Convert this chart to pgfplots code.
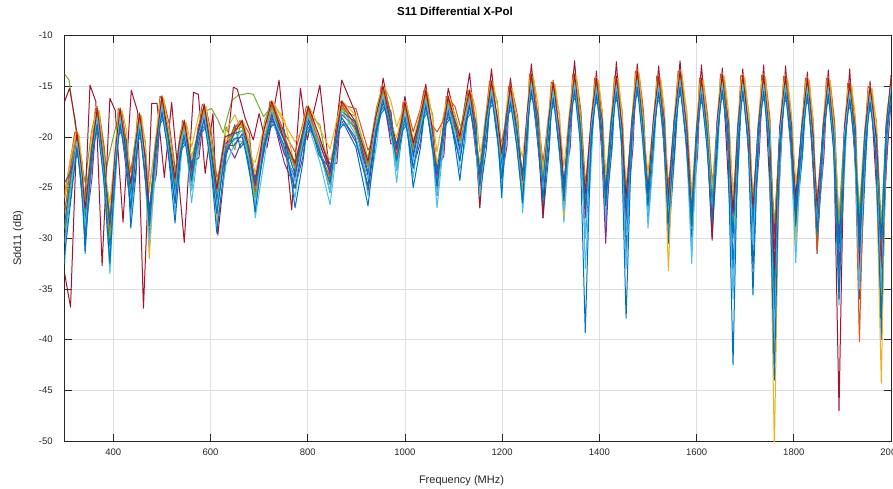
\documentclass[border=0pt]{standalone}
\usepackage{pgfplots}
\pgfplotsset{compat=1.18}
\usepackage{pgfplotstable}
\usepackage{fontspec}
\setmainfont{Liberation Sans}

\definecolor{mblue}{rgb}{0,0.447,0.741}
\definecolor{morange}{rgb}{0.85,0.325,0.098}
\definecolor{myellow}{rgb}{0.929,0.694,0.125}
\definecolor{mpurple}{rgb}{0.494,0.184,0.556}
\definecolor{mgreen}{rgb}{0.466,0.674,0.188}
\definecolor{mcyan}{rgb}{0.301,0.745,0.933}
\definecolor{mred}{rgb}{0.635,0.078,0.184}

% main band of traces, sampled at troughs, peaks and slopes
\pgfplotstableread{
x a b c d e f g h
300 -27.5 -26.0 -24.5 -29.0 -33.5 -30.5 -31.5 -28.5
312 -23.0 -22.0 -23.5 -24.5 -36.8 -25.5 -26.5 -24.0
325 -19.8 -19.4 -20.8 -20.1 -19.5 -20.4 -21.1 -20.5
334 -24.3 -23.4 -23.7 -24.6 -23.0 -23.8 -24.5 -25.0
342 -27.4 -27.0 -28.5 -27.7 -27.1 -28.9 -30.5 -28.2
355 -21.1 -21.9 -22.9 -21.4 -21.6 -22.4 -22.2 -21.7
367 -17.5 -17.1 -18.5 -17.8 -17.2 -18.1 -18.8 -18.2
380 -22.8 -21.8 -23.0 -23.3 -22.4 -23.7 -24.0 -22.5
393 -29.4 -27.6 -28.8 -30.0 -28.5 -33.5 -32.5 -28.4
404 -22.8 -21.9 -22.2 -23.1 -21.5 -22.3 -23.0 -23.5
414 -17.5 -17.1 -18.5 -17.8 -17.2 -18.1 -18.8 -18.2
425 -20.6 -21.4 -22.4 -20.9 -21.1 -21.9 -21.7 -21.2
436 -24.9 -24.5 -26.0 -25.2 -24.6 -26.4 -27.1 -25.7
445 -21.3 -20.3 -21.5 -21.8 -20.9 -22.2 -22.5 -21.0
454 -18.0 -17.6 -19.0 -18.3 -17.7 -18.6 -19.3 -18.7
464 -22.8 -21.9 -22.2 -23.1 -21.5 -22.3 -23.0 -23.5
474 -28.4 -32.0 -27.8 -29.0 -27.5 -30.5 -28.8 -27.4
487 -20.6 -21.4 -22.4 -20.9 -21.1 -21.9 -21.7 -21.2
500 -16.3 -15.9 -17.3 -16.6 -16.0 -16.9 -17.6 -17.0
513 -20.3 -19.3 -20.5 -20.8 -19.9 -21.2 -21.5 -20.0
527 -24.4 -24.0 -25.5 -24.7 -24.1 -25.9 -26.6 -25.2
536 -21.8 -20.9 -21.2 -22.1 -20.5 -21.3 -22.0 -22.5
546 -18.7 -18.3 -19.7 -19.0 -18.4 -19.3 -20.0 -19.4
561 -23.9 -22.1 -23.3 -24.5 -23.0 -25.3 -24.3 -22.9
574 -19.1 -19.9 -20.9 -19.4 -19.6 -20.4 -20.2 -19.7
587 -17.1 -16.7 -18.1 -17.4 -16.8 -17.7 -18.4 -17.8
600 -21.3 -20.3 -21.5 -21.8 -20.9 -22.2 -22.5 -21.0
613 -25.4 -28.0 -26.5 -25.7 -25.1 -26.9 -27.6 -26.2
630 -21.3 -20.4 -20.7 -21.6 -20.0 -20.8 -21.5 -22.0
648 -19.1 -19.9 -20.9 -19.4 -19.6 -20.4 -20.2 -19.7
665 -18.7 -18.3 -19.7 -19.0 -18.4 -19.3 -20.0 -19.4
678 -21.3 -20.3 -21.5 -21.8 -20.9 -22.2 -22.5 -21.0
692 -25.4 -23.6 -24.8 -26.0 -24.5 -26.8 -27.4 -24.4
709 -20.8 -19.9 -20.2 -21.1 -19.5 -20.3 -21.0 -21.5
726 -16.8 -16.4 -17.8 -17.1 -16.5 -17.4 -18.1 -17.5
750 -19.6 -18.5 -21.4 -19.9 -20.1 -20.9 -20.7 -20.2
774 -22.9 -20.5 -24.0 -23.2 -22.6 -24.4 -25.1 -23.7
788 -20.3 -19.3 -20.5 -20.8 -19.9 -21.2 -21.5 -20.0
801 -17.3 -16.9 -18.3 -17.6 -17.0 -17.9 -18.6 -18.0
823 -21.1 -20.2 -20.5 -21.4 -19.8 -20.6 -21.3 -21.8
846 -24.1 -22.3 -23.5 -24.7 -23.2 -25.5 -24.5 -23.1
858 -19.6 -20.4 -21.4 -19.9 -20.1 -20.9 -20.7 -20.2
870 -16.8 -16.4 -17.8 -17.1 -16.5 -17.4 -18.1 -17.5
897 -18.8 -17.8 -19.0 -19.3 -18.4 -19.7 -20.0 -18.5
924 -22.7 -22.3 -23.8 -23.0 -22.4 -24.2 -24.9 -23.5
940 -19.3 -18.4 -18.7 -19.6 -18.0 -18.8 -19.5 -20.0
955 -15.3 -14.9 -16.3 -15.6 -15.0 -15.9 -16.6 -16.0
969 -17.7 -18.5 -19.5 -18.0 -18.2 -19.0 -18.8 -18.3
983 -21.9 -20.1 -21.3 -22.5 -21.0 -23.3 -22.3 -20.9
1000 -16.9 -16.5 -17.9 -17.2 -16.6 -17.5 -18.2 -17.6
1017 -20.9 -20.5 -22.0 -21.2 -20.6 -22.4 -23.1 -21.7
1030 -18.8 -17.8 -19.0 -19.3 -18.4 -19.7 -20.0 -18.5
1043 -15.7 -15.3 -16.7 -16.0 -15.4 -16.3 -17.0 -16.4
1055 -18.8 -19.2 -19.5 -20.4 -18.8 -19.6 -20.3 -20.8
1066 -19.5 -22.6 -23.8 -25.0 -25.5 -25.8 -24.8 -23.4
1078 -18.5 -19.7 -20.7 -19.2 -19.4 -20.2 -20.0 -19.5
1089 -16.3 -15.9 -17.3 -16.6 -16.0 -16.9 -17.6 -17.0
1101 -18.6 -17.6 -18.8 -19.1 -18.2 -19.5 -19.8 -18.3
1113 -20.2 -19.8 -21.3 -20.5 -19.9 -21.7 -22.4 -21.0
1123 -18.9 -18.0 -18.3 -19.2 -17.6 -18.4 -19.1 -19.6
1133 -15.7 -15.3 -16.7 -16.0 -15.4 -16.3 -17.0 -16.4
1144 -18.7 -19.5 -20.5 -19.0 -19.2 -20.0 -19.8 -19.3
1154 -24.4 -22.6 -23.8 -25.0 -27.0 -25.8 -24.8 -23.4
1166 -18.8 -17.8 -19.0 -19.3 -18.4 -19.7 -20.0 -18.5
1178 -14.8 -14.4 -15.8 -15.1 -14.5 -15.4 -16.1 -15.5
1188 -18.8 -17.9 -18.2 -19.1 -17.5 -18.3 -19.0 -19.5
1199 -21.9 -21.5 -23.0 -22.2 -21.6 -23.4 -24.1 -22.7
1208 -17.9 -18.7 -19.7 -18.2 -18.4 -19.2 -19.0 -18.5
1217 -15.3 -14.9 -16.3 -15.6 -15.0 -15.9 -16.6 -16.0
1230 -19.6 -18.6 -19.8 -20.1 -19.2 -20.5 -20.8 -19.3
1242 -24.9 -25.3 -24.3 -25.5 -24.0 -26.3 -26.5 -23.9
1251 -19.1 -18.2 -18.5 -19.4 -17.8 -18.6 -19.3 -19.8
1260 -14.1 -13.7 -15.1 -14.4 -13.8 -14.7 -15.4 -14.8
1272 -18.1 -18.9 -19.9 -18.4 -18.6 -19.4 -19.2 -18.7
1284 -23.9 -23.5 -25.0 -24.2 -28.0 -25.4 -26.1 -24.7
1295 -19.0 -18.0 -19.2 -19.5 -18.6 -19.9 -20.2 -18.7
1305 -14.9 -14.5 -15.9 -15.2 -14.6 -15.5 -16.2 -15.6
1316 -20.1 -19.2 -19.5 -20.4 -18.8 -19.6 -20.3 -20.8
1327 -25.9 -28.0 -25.3 -26.5 -25.0 -27.3 -26.3 -24.9
1338 -18.1 -18.9 -19.9 -18.4 -18.6 -19.4 -19.2 -18.7
1349 -14.1 -13.7 -15.1 -14.4 -13.8 -14.7 -15.4 -14.8
1360 -19.0 -18.0 -19.2 -19.5 -18.6 -19.9 -20.2 -18.7
1371 -25.9 -25.5 -27.0 -26.2 -25.6 -30.0 -39.3 -26.7
1383 -19.6 -18.7 -19.0 -19.9 -18.3 -19.1 -19.8 -20.3
1394 -14.5 -14.1 -15.5 -14.8 -14.2 -15.1 -15.8 -15.2
1404 -18.6 -19.4 -20.4 -18.9 -19.1 -19.9 -19.7 -19.2
1413 -26.4 -24.6 -30.5 -27.0 -25.5 -27.8 -26.8 -25.4
1424 -19.0 -18.0 -19.2 -19.5 -18.6 -19.9 -20.2 -18.7
1435 -14.3 -13.9 -15.3 -14.6 -14.0 -14.9 -15.6 -15.0
1445 -19.8 -18.9 -19.2 -20.1 -18.5 -19.3 -20.0 -20.5
1455 -26.4 -26.0 -27.5 -26.7 -26.1 -33.0 -37.9 -27.2
1467 -18.1 -18.9 -19.9 -18.4 -18.6 -19.4 -19.2 -18.7
1478 -13.8 -13.4 -14.8 -14.1 -13.5 -14.4 -15.1 -14.5
1489 -19.1 -18.1 -19.3 -19.6 -18.7 -20.0 -20.3 -18.8
1500 -26.4 -24.6 -25.8 -27.0 -25.5 -27.8 -26.8 -25.4
1511 -19.6 -18.7 -19.0 -19.9 -18.3 -19.1 -19.8 -20.3
1522 -14.3 -13.9 -15.3 -14.6 -14.0 -14.9 -15.6 -15.0
1532 -18.6 -19.4 -20.4 -18.9 -19.1 -19.9 -19.7 -19.2
1542 -26.4 -33.2 -27.5 -26.7 -26.1 -27.9 -28.6 -27.2
1554 -18.8 -17.8 -19.0 -19.3 -18.4 -19.7 -20.0 -18.5
1566 -13.8 -13.4 -14.8 -14.1 -13.5 -14.4 -15.1 -14.5
1578 -19.8 -18.9 -19.2 -20.1 -18.5 -19.3 -20.0 -20.5
1590 -28.4 -26.6 -27.8 -29.0 -27.5 -32.5 -28.8 -27.4
1600 -18.9 -19.7 -20.7 -19.2 -19.4 -20.2 -20.0 -19.5
1610 -14.5 -14.1 -15.5 -14.8 -14.2 -15.1 -15.8 -15.2
1621 -19.6 -18.6 -19.8 -20.1 -19.2 -20.5 -20.8 -19.3
1632 -25.9 -25.5 -27.0 -26.2 -30.2 -27.4 -28.1 -26.7
1642 -19.8 -18.9 -19.2 -20.1 -18.5 -19.3 -20.0 -20.5
1653 -14.1 -13.7 -15.1 -14.4 -13.8 -14.7 -15.4 -14.8
1664 -18.9 -19.7 -20.7 -19.2 -19.4 -20.2 -20.0 -19.5
1675 -28.4 -26.6 -27.8 -29.0 -27.5 -36.0 -42.5 -30.0
1685 -19.3 -18.3 -19.5 -19.8 -18.9 -20.2 -20.5 -19.0
1695 -14.2 -13.8 -15.2 -14.5 -13.9 -14.8 -15.5 -14.9
1706 -20.1 -19.2 -19.5 -20.4 -18.8 -19.6 -20.3 -20.8
1716 -27.4 -27.0 -28.5 -27.7 -27.1 -30.5 -35.6 -28.5
1727 -18.6 -19.4 -20.4 -18.9 -19.1 -19.9 -19.7 -19.2
1738 -14.2 -13.8 -15.2 -14.5 -13.9 -14.8 -15.5 -14.9
1749 -19.8 -18.8 -20.0 -20.3 -19.4 -20.7 -21.0 -19.5
1760 -30.0 -51.0 -29.5 -28.5 -33.0 -40.0 -44.0 -37.0
1771 -20.3 -19.4 -19.7 -20.6 -19.0 -19.8 -20.5 -21.0
1783 -14.3 -13.9 -15.3 -14.6 -14.0 -14.9 -15.6 -15.0
1793 -18.9 -19.7 -20.7 -19.2 -19.4 -20.2 -20.0 -19.5
1804 -26.4 -31.0 -27.6 -26.6 -26.0 -32.4 -28.5 -27.1
1816 -19.6 -18.6 -19.8 -20.1 -19.2 -20.5 -20.8 -19.3
1828 -14.5 -14.1 -15.5 -14.8 -14.2 -15.1 -15.8 -15.2
1838 -20.6 -19.7 -20.0 -20.9 -19.3 -20.1 -20.8 -21.3
1848 -31.5 -27.0 -28.6 -29.5 -27.0 -28.8 -29.5 -28.2
1860 -18.9 -19.7 -20.7 -19.2 -19.4 -20.2 -20.0 -19.5
1871 -14.5 -14.1 -15.5 -14.8 -14.2 -15.1 -15.8 -15.2
1882 -20.1 -19.1 -20.3 -20.6 -19.7 -21.0 -21.3 -19.8
1893 -28.4 -28.0 -29.6 -28.6 -47.0 -36.6 -36.0 -31.0
1904 -20.3 -19.4 -19.7 -20.6 -19.0 -19.8 -20.5 -21.0
1915 -15.0 -14.6 -16.0 -15.3 -14.7 -15.6 -16.3 -15.7
1925 -19.4 -20.2 -21.2 -19.7 -19.9 -20.7 -20.5 -20.0
1935 -40.2 -27.0 -28.6 -27.6 -33.0 -35.0 -31.0 -29.0
1946 -20.1 -19.1 -20.3 -20.6 -19.7 -21.0 -21.3 -19.8
1957 -15.3 -14.9 -16.3 -15.6 -15.0 -15.9 -16.6 -16.0
1968 -20.8 -19.9 -20.2 -21.1 -19.5 -20.3 -21.0 -21.5
1980 -33.0 -44.3 -29.5 -28.6 -33.0 -35.0 -38.0 -30.0
1990 -18.6 -19.4 -20.4 -18.9 -19.1 -19.9 -19.7 -19.2
2000 -14.5 -14.1 -15.5 -14.8 -14.2 -15.1 -15.8 -15.2
}\band

% second group of traces, sampled on both shoulders of each peak
\pgfplotstableread{
x i j k l m n
300 -25.5 -27.0 -30.0 -32.5 -29.0 -26.0
312 -22.2 -24.5 -25.5 -23.4 -26.0 -23.0
321 -19.5 -20.2 -21.9 -21.5 -22.2 -20.0
329 -19.9 -19.7 -21.4 -21.9 -21.7 -20.4
336 -25.3 -22.9 -24.0 -26.2 -24.9 -22.5
342 -26.0 -27.5 -29.5 -30.5 -31.5 -26.8
356 -21.1 -19.8 -24.1 -22.6 -20.8 -23.3
363 -17.2 -17.9 -19.6 -19.2 -19.9 -17.7
371 -17.6 -17.4 -19.1 -19.6 -19.4 -18.1
382 -21.2 -23.5 -24.5 -22.4 -25.0 -22.0
393 -30.0 -26.5 -28.0 -32.0 -30.8 -29.5
405 -23.3 -20.9 -22.0 -24.2 -22.9 -20.5
410 -17.2 -17.9 -19.6 -19.2 -19.9 -17.7
418 -17.6 -17.4 -19.1 -19.6 -19.4 -18.1
427 -20.6 -19.3 -23.6 -22.1 -20.3 -22.8
436 -23.5 -25.0 -27.0 -28.0 -29.0 -24.3
447 -19.7 -22.0 -23.0 -20.9 -23.5 -20.5
450 -17.7 -18.4 -20.1 -19.7 -20.4 -18.2
458 -18.1 -17.9 -19.6 -20.1 -19.9 -18.6
466 -23.3 -20.9 -22.0 -24.2 -22.9 -20.5
474 -29.0 -25.5 -27.0 -31.0 -29.8 -28.5
489 -20.6 -19.3 -23.6 -22.1 -20.3 -22.8
496 -16.0 -16.7 -18.4 -18.0 -18.7 -16.5
504 -16.4 -16.2 -17.9 -18.4 -18.2 -16.9
515 -18.7 -21.0 -22.0 -19.9 -22.5 -19.5
527 -23.0 -24.5 -26.5 -27.5 -28.5 -23.8
538 -22.3 -19.9 -21.0 -23.2 -21.9 -19.5
542 -18.4 -19.1 -20.8 -20.4 -21.1 -18.9
550 -18.8 -18.6 -20.3 -20.8 -20.6 -19.3
561 -24.5 -21.0 -22.5 -26.5 -25.3 -24.0
576 -19.1 -17.8 -22.1 -20.6 -18.8 -21.3
583 -16.8 -17.5 -19.2 -18.8 -19.5 -17.3
591 -17.2 -17.0 -18.7 -19.2 -19.0 -17.7
602 -19.7 -22.0 -23.0 -20.9 -23.5 -20.5
613 -24.0 -25.5 -27.5 -28.5 -29.5 -24.8
632 -21.8 -19.4 -20.5 -22.7 -21.4 -19.0
650 -19.1 -17.8 -22.1 -20.6 -18.8 -21.3
661 -18.4 -19.1 -20.8 -20.4 -21.1 -18.9
669 -18.8 -18.6 -20.3 -20.8 -20.6 -19.3
680 -19.7 -22.0 -23.0 -20.9 -23.5 -20.5
692 -26.0 -22.5 -24.0 -28.0 -26.8 -25.5
711 -21.3 -18.9 -20.0 -22.2 -20.9 -18.5
722 -16.5 -17.2 -18.9 -18.5 -19.2 -17.0
730 -16.9 -16.7 -18.4 -18.9 -18.7 -17.4
752 -19.6 -18.3 -22.6 -21.1 -19.3 -21.8
774 -21.5 -23.0 -25.0 -26.0 -27.0 -22.3
790 -18.7 -21.0 -22.0 -19.9 -22.5 -19.5
797 -17.0 -17.7 -19.4 -19.0 -19.7 -17.5
805 -17.4 -17.2 -18.9 -19.4 -19.2 -17.9
825 -21.6 -19.2 -20.3 -22.5 -21.2 -18.8
846 -24.7 -21.2 -22.7 -26.7 -25.5 -24.2
860 -19.6 -18.3 -22.6 -21.1 -19.3 -21.8
866 -16.5 -17.2 -18.9 -18.5 -19.2 -17.0
874 -16.9 -16.7 -18.4 -18.9 -18.7 -17.4
899 -17.2 -19.5 -20.5 -18.4 -21.0 -18.0
924 -21.3 -22.8 -24.8 -25.8 -26.8 -22.1
942 -19.8 -17.4 -18.5 -20.7 -19.4 -17.0
951 -15.0 -15.7 -17.4 -17.0 -17.7 -15.5
959 -15.4 -15.2 -16.9 -17.4 -17.2 -15.9
971 -17.7 -16.4 -20.7 -19.2 -17.4 -19.9
983 -22.5 -19.0 -20.5 -24.5 -23.3 -22.0
996 -16.6 -17.3 -19.0 -18.6 -19.3 -17.1
1004 -17.0 -16.8 -18.5 -19.0 -18.8 -17.5
1017 -19.5 -21.0 -23.0 -24.0 -25.0 -20.3
1032 -17.2 -19.5 -20.5 -18.4 -21.0 -18.0
1039 -15.4 -16.1 -17.8 -17.4 -18.1 -15.9
1047 -15.8 -15.6 -17.3 -17.8 -17.6 -16.3
1057 -20.6 -18.2 -19.3 -21.5 -20.2 -17.8
1066 -25.0 -21.5 -23.0 -27.0 -25.8 -24.5
1080 -18.9 -17.6 -21.9 -20.4 -18.6 -21.1
1085 -16.0 -16.7 -18.4 -18.0 -18.7 -16.5
1093 -16.4 -16.2 -17.9 -18.4 -18.2 -16.9
1103 -17.0 -19.3 -20.3 -18.2 -20.8 -17.8
1113 -18.8 -20.3 -22.3 -23.3 -24.3 -19.6
1125 -19.4 -17.0 -18.1 -20.3 -19.0 -16.6
1129 -15.4 -16.1 -17.8 -17.4 -18.1 -15.9
1137 -15.8 -15.6 -17.3 -17.8 -17.6 -16.3
1146 -18.7 -17.4 -21.7 -20.2 -18.4 -20.9
1154 -25.0 -21.5 -23.0 -27.0 -25.8 -24.5
1168 -17.2 -19.5 -20.5 -18.4 -21.0 -18.0
1174 -14.5 -15.2 -16.9 -16.5 -17.2 -15.0
1182 -14.9 -14.7 -16.4 -16.9 -16.7 -15.4
1190 -19.3 -16.9 -18.0 -20.2 -18.9 -16.5
1199 -20.5 -22.0 -24.0 -25.0 -26.0 -21.3
1210 -17.9 -16.6 -20.9 -19.4 -17.6 -20.1
1213 -15.0 -15.7 -17.4 -17.0 -17.7 -15.5
1221 -15.4 -15.2 -16.9 -17.4 -17.2 -15.9
1232 -18.0 -20.3 -21.3 -19.2 -21.8 -18.8
1242 -25.5 -22.0 -23.5 -27.5 -26.3 -25.0
1253 -19.6 -17.2 -18.3 -20.5 -19.2 -16.8
1256 -13.8 -14.5 -16.2 -15.8 -16.5 -14.3
1264 -14.2 -14.0 -15.7 -16.2 -16.0 -14.7
1274 -18.1 -16.8 -21.1 -19.6 -17.8 -20.3
1284 -22.5 -24.0 -26.0 -27.0 -28.0 -23.3
1297 -17.4 -19.7 -20.7 -18.6 -21.2 -18.2
1301 -14.6 -15.3 -17.0 -16.6 -17.3 -15.1
1309 -15.0 -14.8 -16.5 -17.0 -16.8 -15.5
1318 -20.6 -18.2 -19.3 -21.5 -20.2 -17.8
1327 -26.5 -23.0 -24.5 -28.5 -27.3 -26.0
1340 -18.1 -16.8 -21.1 -19.6 -17.8 -20.3
1345 -13.8 -14.5 -16.2 -15.8 -16.5 -14.3
1353 -14.2 -14.0 -15.7 -16.2 -16.0 -14.7
1362 -17.4 -19.7 -20.7 -18.6 -21.2 -18.2
1371 -24.5 -26.0 -28.0 -33.0 -30.0 -25.3
1385 -20.1 -17.7 -18.8 -21.0 -19.7 -17.3
1390 -14.2 -14.9 -16.6 -16.2 -16.9 -14.7
1398 -14.6 -14.4 -16.1 -16.6 -16.4 -15.1
1406 -18.6 -17.3 -21.6 -20.1 -18.3 -20.8
1413 -27.0 -23.5 -25.0 -29.0 -27.8 -26.5
1426 -17.4 -19.7 -20.7 -18.6 -21.2 -18.2
1431 -14.0 -14.7 -16.4 -16.0 -16.7 -14.5
1439 -14.4 -14.2 -15.9 -16.4 -16.2 -14.9
1447 -20.3 -17.9 -19.0 -21.2 -19.9 -17.5
1455 -25.0 -26.5 -28.5 -29.5 -31.5 -25.8
1469 -18.1 -16.8 -21.1 -19.6 -17.8 -20.3
1474 -13.5 -14.2 -15.9 -15.5 -16.2 -14.0
1482 -13.9 -13.7 -15.4 -15.9 -15.7 -14.4
1491 -17.5 -19.8 -20.8 -18.7 -21.3 -18.3
1500 -27.0 -23.5 -25.0 -29.0 -27.8 -26.5
1513 -20.1 -17.7 -18.8 -21.0 -19.7 -17.3
1518 -14.0 -14.7 -16.4 -16.0 -16.7 -14.5
1526 -14.4 -14.2 -15.9 -16.4 -16.2 -14.9
1534 -18.6 -17.3 -21.6 -20.1 -18.3 -20.8
1542 -25.0 -26.5 -28.5 -29.5 -30.5 -25.8
1556 -17.2 -19.5 -20.5 -18.4 -21.0 -18.0
1562 -13.5 -14.2 -15.9 -15.5 -16.2 -14.0
1570 -13.9 -13.7 -15.4 -15.9 -15.7 -14.4
1580 -20.3 -17.9 -19.0 -21.2 -19.9 -17.5
1590 -29.0 -25.5 -27.0 -31.0 -29.8 -28.5
1602 -18.9 -17.6 -21.9 -20.4 -18.6 -21.1
1606 -14.2 -14.9 -16.6 -16.2 -16.9 -14.7
1614 -14.6 -14.4 -16.1 -16.6 -16.4 -15.1
1623 -18.0 -20.3 -21.3 -19.2 -21.8 -18.8
1632 -24.5 -26.0 -28.0 -29.0 -30.0 -25.3
1644 -20.3 -17.9 -19.0 -21.2 -19.9 -17.5
1649 -13.8 -14.5 -16.2 -15.8 -16.5 -14.3
1657 -14.2 -14.0 -15.7 -16.2 -16.0 -14.7
1666 -18.9 -17.6 -21.9 -20.4 -18.6 -21.1
1675 -29.0 -25.5 -27.0 -34.0 -33.0 -28.5
1687 -17.7 -20.0 -21.0 -18.9 -21.5 -18.5
1691 -13.9 -14.6 -16.3 -15.9 -16.6 -14.4
1699 -14.3 -14.1 -15.8 -16.3 -16.1 -14.8
1708 -20.6 -18.2 -19.3 -21.5 -20.2 -17.8
1716 -26.0 -27.5 -29.5 -30.5 -33.0 -26.8
1729 -18.6 -17.3 -21.6 -20.1 -18.3 -20.8
1734 -13.9 -14.6 -16.3 -15.9 -16.6 -14.4
1742 -14.3 -14.1 -15.8 -16.3 -16.1 -14.8
1751 -18.2 -20.5 -21.5 -19.4 -22.0 -19.0
1760 -36.0 -42.0 -31.0 -38.0 -34.0 -30.0
1773 -20.8 -18.4 -19.5 -21.7 -20.4 -18.0
1779 -14.0 -14.7 -16.4 -16.0 -16.7 -14.5
1787 -14.4 -14.2 -15.9 -16.4 -16.2 -14.9
1795 -18.9 -17.6 -21.9 -20.4 -18.6 -21.1
1804 -28.0 -24.5 -26.0 -30.0 -28.8 -27.5
1818 -18.0 -20.3 -21.3 -19.2 -21.8 -18.8
1824 -14.2 -14.9 -16.6 -16.2 -16.9 -14.7
1832 -14.6 -14.4 -16.1 -16.6 -16.4 -15.1
1840 -21.1 -18.7 -19.8 -22.0 -20.7 -18.3
1848 -26.0 -27.5 -29.5 -30.5 -31.5 -29.0
1862 -18.9 -17.6 -21.9 -20.4 -18.6 -21.1
1867 -14.2 -14.9 -16.6 -16.2 -16.9 -14.7
1875 -14.6 -14.4 -16.1 -16.6 -16.4 -15.1
1884 -18.5 -20.8 -21.8 -19.7 -22.3 -19.3
1893 -30.0 -29.0 -33.0 -36.0 -34.0 -28.5
1906 -20.8 -18.4 -19.5 -21.7 -20.4 -18.0
1911 -14.7 -15.4 -17.1 -16.7 -17.4 -15.2
1919 -15.1 -14.9 -16.6 -17.1 -16.9 -15.6
1927 -19.4 -18.1 -22.4 -20.9 -19.1 -21.6
1935 -32.0 -29.0 -30.5 -34.0 -36.0 -28.0
1948 -18.5 -20.8 -21.8 -19.7 -22.3 -19.3
1953 -15.0 -15.7 -17.4 -17.0 -17.7 -15.5
1961 -15.4 -15.2 -16.9 -17.4 -17.2 -15.9
1970 -21.3 -18.9 -20.0 -22.2 -20.9 -18.5
1980 -31.0 -36.0 -30.0 -34.0 -40.0 -29.0
1992 -18.6 -17.3 -21.6 -20.1 -18.3 -20.8
2000 -14.2 -14.9 -16.6 -16.2 -16.9 -14.7
}\bandtwo

% dark red trace that swings widely below 900 MHz and tops the peaks above
\pgfplotstableread{
x y
300 -16.5
310 -15.2
322 -18.5
342 -26.5
352 -14.9
364 -16.5
377 -32.7
393 -16.2
404 -17.4
420 -28.4
437 -15.4
450 -17.5
462 -36.9
479 -16.7
490 -16.7
505 -24.0
520 -16.6
546 -30.4
565 -15.6
575 -15.8
589 -23.6
605 -17.7
615 -29.7
647 -15.1
655 -15.3
671 -18.1
688 -20.3
700 -17.7
716 -21.1
741 -14.4
767 -27.2
785 -15.2
799 -20.3
825 -14.9
846 -24.0
870 -14.4
897 -17.5
924 -25.5
955 -14.2
983 -21.0
1000 -16.0
1017 -21.0
1043 -14.8
1066 -25.0
1089 -15.2
1113 -20.0
1133 -13.7
1154 -24.5
1178 -13.3
1199 -23.0
1217 -14.2
1242 -24.0
1260 -12.8
1284 -25.0
1305 -14.4
1327 -25.0
1349 -12.5
1371 -26.0
1394 -13.5
1413 -27.5
1435 -12.6
1455 -26.0
1478 -12.8
1500 -25.5
1522 -13.0
1542 -26.0
1566 -12.5
1590 -27.0
1610 -12.9
1632 -26.5
1653 -13.2
1675 -33.0
1695 -13.3
1716 -28.0
1738 -12.9
1760 -34.0
1783 -13.0
1804 -26.0
1828 -13.6
1848 -30.0
1871 -13.4
1893 -29.0
1915 -13.3
1935 -30.0
1957 -14.5
1980 -33.0
2000 -13.9
}\redtrace

% green trace that starts high and sits above the band near 650 MHz
\pgfplotstableread{
x y
300 -13.8
309 -14.4
322 -19.0
342 -24.5
355 -19.5
367 -17.0
386 -23.0
400 -20.0
414 -17.3
436 -23.5
454 -17.8
474 -25.0
500 -16.5
527 -23.5
546 -18.5
561 -22.0
587 -17.5
602 -17.2
615 -18.3
626 -19.6
644 -16.4
657 -15.9
678 -15.7
688 -15.8
709 -18.0
726 -17.0
750 -20.2
774 -23.0
801 -17.3
823 -20.3
846 -23.5
870 -16.9
897 -18.8
924 -22.8
955 -15.5
}\greentrace

\begin{document}
\begin{tikzpicture}
\begin{axis}[
  name=ax,
  at={(0,0)}, anchor=south west,
  scale only axis,
  width=826.3pt, height=405.5pt,
  xmin=300, xmax=2000, ymin=-50, ymax=-10,
  xtick={400,600,...,2000},
  ytick={-50,-45,...,-10},
  /pgf/number format/assume math mode=true,
  /pgf/number format/1000 sep={},
  grid=major,
  major grid style={color=black!13, line width=0.6pt},
  axis line style={color=black!85, line width=0.7pt},
  tick align=inside,
  major tick length=7pt,
  tick style={color=black!85, line width=0.7pt},
  xtick pos=both, ytick pos=both,
  ticklabel style={font=\fontsize{9.5}{11}\selectfont, color=black!85},
  xticklabel style={yshift=-4pt},
  yticklabel style={xshift=-8.5pt},
  title={S11 Differential X-Pol},
  title style={font=\fontsize{11.5}{13}\selectfont\bfseries, at={(0.4724,1)}, anchor=base, yshift=13.5pt},
  xlabel={Frequency (MHz)},
  xlabel style={font=\fontsize{11}{13}\selectfont, color=black!85, at={(0.4802,0)}, anchor=base, yshift=-42pt},
  ylabel={Sdd11 (dB)},
  ylabel style={font=\fontsize{11}{13}\selectfont, color=black!85, at={(0,0.5)}, anchor=center, yshift=46.5pt},
  clip=true,
  every axis plot/.append style={line width=1pt, no markers, line join=round},
]
\addplot[mgreen] table[x=x, y=y] {\greentrace};
\addplot[mred] table[x=x, y=y] {\redtrace};
\addplot[morange] table[x=x, y=i] {\bandtwo};
\addplot[mgreen] table[x=x, y=n] {\bandtwo};
\addplot[myellow] table[x=x, y=j] {\bandtwo};
\addplot[mpurple] table[x=x, y=k] {\bandtwo};
\addplot[mcyan] table[x=x, y=l] {\bandtwo};
\addplot[mblue] table[x=x, y=m] {\bandtwo};
\addplot[morange] table[x=x, y=a] {\band};
\addplot[myellow] table[x=x, y=b] {\band};
\addplot[mpurple] table[x=x, y=c] {\band};
\addplot[mgreen] table[x=x, y=d] {\band};
\addplot[mred] table[x=x, y=e] {\band};
\addplot[mblue] table[x=x, y=h] {\band};
\addplot[mcyan] table[x=x, y=f] {\band};
\addplot[mblue] table[x=x, y=g] {\band};
\end{axis}
\pgfresetboundingbox
\useasboundingbox ([xshift=-64.7pt, yshift=-47pt]ax.south west) rectangle ([xshift=2pt, yshift=35.5pt]ax.north east);
\end{tikzpicture}
\end{document}
